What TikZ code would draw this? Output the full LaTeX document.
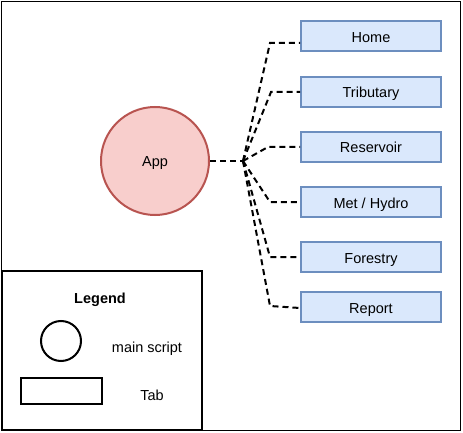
\documentclass[tikz,border=0pt]{standalone}
\usepackage{fontspec}
\setmainfont{Liberation Sans}
\usetikzlibrary{positioning}

\definecolor{appfill}{HTML}{F8CECC}
\definecolor{appdraw}{HTML}{B85450}
\definecolor{tabfill}{HTML}{DAE8FC}
\definecolor{tabdraw}{HTML}{6C8EBF}

\begin{document}
\begin{tikzpicture}[x=1pt, y=-1pt]

    % --- Styles ---
    \tikzset{
        % gemeinsame Basis
        element/.style={
            draw,
            line width=2pt,
            font=\fontsize{14.5}{17}\selectfont,
            text height=13pt,
            text depth=1pt,
            align=center,
            inner sep=0pt
        },
        % Hauptskript
        mainscript/.style={
            element,
            circle,
            draw=appdraw,
            fill=appfill,
            minimum size=108pt
        },
        % Reiter
        tab/.style={
            element,
            rectangle,
            draw=tabdraw,
            fill=tabfill,
            minimum width=140pt,
            minimum height=30pt
        },
        % Legende
        legendtext/.style={
            font=\fontsize{14.5}{17}\selectfont,
            text height=13pt,
            text depth=1pt,
            align=center
        },
        % Verbindungen
        link/.style={
            line width=2pt,
            dash pattern=on 6pt off 4pt
        }
    }

    % Rahmen
    \draw[line width=1.5pt] (1.5, 1.5) rectangle (460.5, 430.5);
    \useasboundingbox (0, 0) rectangle (463, 433);

    % --- 1. Knoten ---

    % App
    \node[mainscript] (app) at (155, 161) {App};

    % Reiter
    \node[tab] (home) at (371, 36.5) {Home};
    \node[tab] (tributary) at (371, 92) {Tributary};
    \node[tab] (reservoir) at (371, 147) {Reservoir};
    \node[tab] (methydro) at (371, 202) {Met / Hydro};
    \node[tab] (forestry) at (371, 257) {Forestry};
    \node[tab] (report) at (371, 307) {Report};

    % --- 2. Verbindungen ---
    \coordinate (fork) at (243, 161);
    \draw[link] (app.east) -- (fork);

    \draw[link] (fork) -- (270, 43) -- ([yshift=-6.5pt]home.west);
    \draw[link] (fork) -- (271, 92) -- (tributary.west);
    \draw[link] (fork) -- (268, 147) -- (reservoir.west);
    \draw[link] (fork) -- (270, 202) -- (methydro.west);
    \draw[link] (fork) -- (270, 257) -- (forestry.west);
    \draw[link] (fork) -- (270, 306) -- ([yshift=-1pt]report.west);

    % --- 3. Legende ---
    \node[draw, line width=2.5pt, minimum width=200pt, minimum height=159pt] (legend) at (102, 350.5) {};
    \node[legendtext, font=\fontsize{14.5}{17}\selectfont\bfseries] (legendtitle) at (100, 297) {Legend};
    \node[draw, circle, line width=2pt, minimum size=40pt] (legendcircle) at (61, 341) {};
    \node[legendtext] (legendscript) at (147, 346) {main script};
    \node[draw, line width=2pt, minimum width=81pt, minimum height=26pt] (legendbox) at (61.5, 391) {};
    \node[legendtext] (legendtab) at (152, 394) {Tab};

\end{tikzpicture}
\end{document}
